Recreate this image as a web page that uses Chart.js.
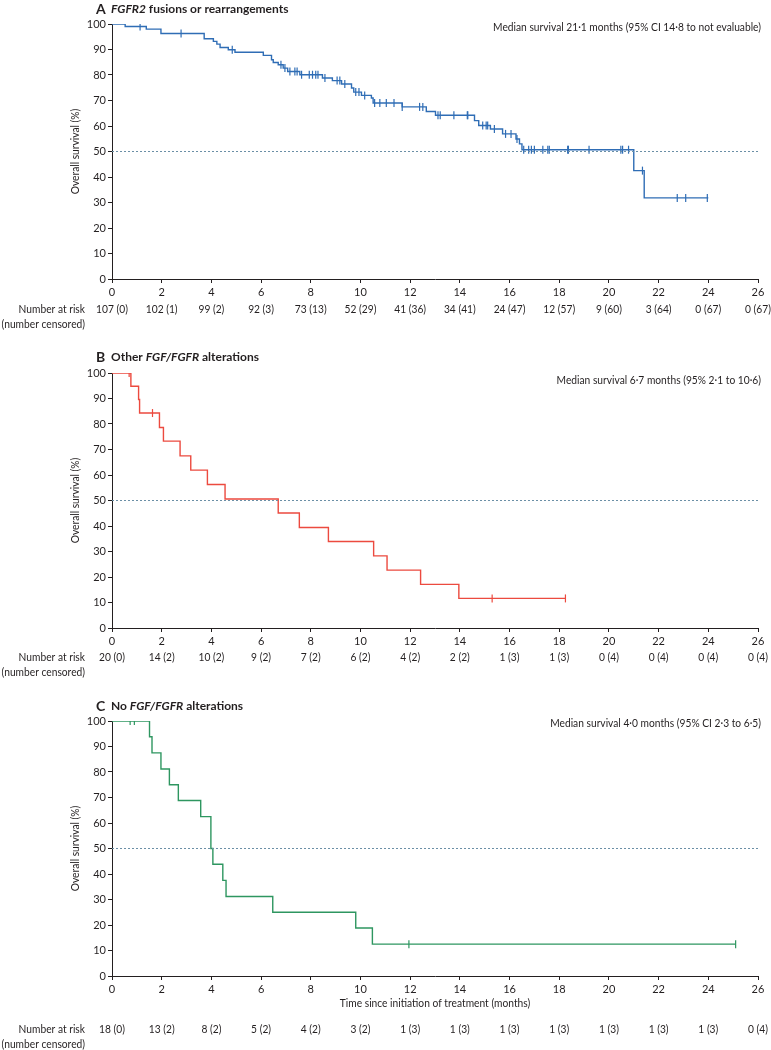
<!DOCTYPE html>
<html>
<head>
<meta charset="utf-8">
<script src="https://cdn.jsdelivr.net/npm/chart.js@4.4.1/dist/chart.umd.min.js"></script>
<style>
  body { margin: 0; background: #fff; width: 771px; height: 1050px; position: relative; overflow: hidden; }
  canvas { position: absolute; left: 0; }
</style>
</head>
<body>
<canvas id="chartA" width="771" height="348" style="top:0"></canvas>
<canvas id="chartB" width="771" height="348" style="top:348px"></canvas>
<canvas id="chartC" width="771" height="353" style="top:697px"></canvas>
<script>
// x axis ticks (months) shared by all panels
const monthTicks = [0, 2, 4, 6, 8, 10, 12, 14, 16, 18, 20, 22, 24, 26];

// A: FGFR2 fusions or rearrangements
const timesA = [0, 0.53, 1.38, 1.97, 3.71, 4.08, 4.22, 4.35, 4.68, 4.95, 6.09, 6.42, 6.49, 6.69, 6.89, 7.07, 7.56, 8.47, 8.87, 9.24, 9.64, 9.73, 10.04, 10.44, 10.51, 11.68, 12.65, 13.02, 14.59, 14.76, 15.23, 15.72, 16.26, 16.40, 16.50, 21.00, 21.42, 24.0];
const survA = [100, 99.0, 98.0, 96.3, 94.2, 93.2, 92.1, 90.8, 89.9, 88.9, 87.7, 86.0, 84.9, 84.0, 82.7, 81.4, 80.1, 78.8, 77.8, 76.5, 74.9, 73.3, 72.0, 71.0, 69.0, 67.5, 65.7, 64.2, 62.1, 60.2, 58.8, 56.9, 54.9, 53.0, 50.7, 42.5, 31.8, 31.8];
const censA = [1.13, 2.78, 4.84, 6.80, 6.96, 7.16, 7.36, 7.45, 7.63, 7.94, 8.07, 8.20, 8.29, 8.57, 9.06, 9.17, 9.37, 9.81, 9.94, 10.17, 10.57, 10.78, 11.04, 11.35, 11.68, 12.38, 12.51, 13.12, 13.21, 13.76, 14.30, 14.32, 14.92, 15.06, 15.12, 15.39, 15.84, 16.06, 16.30, 16.57, 16.77, 16.88, 17.00, 17.34, 17.54, 17.60, 18.34, 18.37, 19.20, 20.48, 20.55, 20.79, 21.35, 22.75, 23.09, 23.96];
const riskA = ['107 (0)', '102 (1)', '99 (2)', '92 (3)', '73 (13)', '52 (29)', '41 (36)', '34 (41)', '24 (47)', '12 (57)', '9 (60)', '3 (64)', '0 (67)', '0 (67)'];

// B: Other FGF/FGFR alterations
const timesB = [0, 0.76, 1.07, 1.11, 1.91, 2.07, 2.74, 3.17, 3.84, 4.55, 6.69, 7.54, 8.71, 10.53, 11.07, 12.42, 13.96, 18.25];
const survB = [100, 94.8, 89.6, 84.3, 78.6, 73.3, 67.5, 61.9, 56.3, 50.6, 45.1, 39.4, 33.9, 28.3, 22.7, 17.1, 11.6, 11.6];
const censB = [0.69, 1.63, 15.3, 18.25];
const riskB = ['20 (0)', '14 (2)', '10 (2)', '9 (2)', '7 (2)', '6 (2)', '4 (2)', '2 (2)', '1 (3)', '1 (3)', '0 (4)', '0 (4)', '0 (4)', '0 (4)'];

// C: No FGF/FGFR alterations
const timesC = [0, 1.51, 1.61, 1.97, 2.31, 2.67, 3.57, 3.98, 4.06, 4.46, 4.59, 6.47, 9.81, 10.48, 25.1];
const survC = [100, 93.8, 87.5, 81.2, 75.0, 68.8, 62.5, 50.0, 43.8, 37.5, 31.2, 25.0, 18.8, 12.5, 12.5];
const censC = [0.73, 0.90, 11.95, 25.1];
const riskC = ['18 (0)', '13 (2)', '8 (2)', '5 (2)', '4 (2)', '3 (2)', '1 (3)', '1 (3)', '1 (3)', '1 (3)', '1 (3)', '1 (3)', '1 (3)', '0 (4)'];

const FONT = 'Lato, "Liberation Sans", sans-serif';
const INK = '#231f20';
const DASH = '#6b8fa6';
const SQUEEZE = 0.93;  // reference type is a bit narrower than Lato

Chart.defaults.font.family = FONT;
Chart.defaults.font.size = 11;
Chart.defaults.color = INK;

function survAt(times, surv, t) {
  let v = surv[0];
  for (let i = 0; i < times.length; i++) {
    if (times[i] <= t) v = surv[i];
  }
  return v;
}

function text(ctx, s, x, y, align, rot) {
  ctx.save();
  ctx.translate(x, y);
  if (rot) ctx.rotate(rot);
  ctx.scale(SQUEEZE, 1);
  ctx.textAlign = align;
  ctx.fillText(s, 0, 0);
  ctx.restore();
}

// titles, median text, y label and number-at-risk rows
const kmText = {
  id: 'kmText',
  afterDraw(chart, args, o) {
    const ctx = chart.ctx;
    const area = chart.chartArea;
    const x = chart.scales.x;
    ctx.save();
    ctx.fillStyle = INK;
    ctx.textBaseline = 'middle';

    // panel title
    ctx.textAlign = 'left';
    ctx.font = 'bold 14px ' + FONT;
    ctx.fillText(o.letter, 96, o.titleY);
    let tx = 111;
    o.title.forEach(p => {
      ctx.font = (p.italic ? 'italic ' : '') + 'bold 12px ' + FONT;
      ctx.fillText(p.t, tx, o.titleY);
      tx += ctx.measureText(p.t).width;
    });

    ctx.font = '11px ' + FONT;
    text(ctx, o.median, 761, o.medianY, 'right');
    text(ctx, 'Overall survival (%)', 75, (area.top + area.bottom) / 2, 'center', -Math.PI / 2);
    if (o.xTitle) {
      text(ctx, o.xTitle, (area.left + area.right) / 2, o.xTitleY, 'center');
    }

    // number at risk
    text(ctx, 'Number at risk', 85, o.riskY, 'right');
    text(ctx, '(number censored)', 85, o.riskY + 15, 'right');
    monthTicks.forEach((m, i) => {
      text(ctx, o.risk[i], x.getPixelForValue(m), o.riskY, 'center');
    });
    ctx.restore();
  }
};

function makeChart(id, p) {
  const curve = p.times.map((t, i) => ({ x: t, y: p.surv[i] }));
  const marks = p.cens.map(t => ({ x: t, y: survAt(p.times, p.surv, t) }));
  const H = document.getElementById(id).height;
  const axisGrid = { drawOnChartArea: false, drawTicks: true, tickLength: 4, color: INK, lineWidth: 1 };
  return new Chart(document.getElementById(id), {
    type: 'line',
    data: {
      datasets: [
        { data: [{ x: 0, y: 50 }, { x: 26, y: 50 }], borderColor: DASH, borderWidth: 1, borderDash: [2, 2], pointRadius: 0 },
        { data: curve, stepped: true, borderColor: p.color, borderWidth: 1.4, pointRadius: 0, fill: false },
        { data: marks, showLine: false, pointStyle: 'line', rotation: 90, pointRadius: 4, borderColor: p.color, borderWidth: 1.2 }
      ]
    },
    options: {
      responsive: false,
      animation: false,
      events: [],
      layout: { padding: { top: p.top, right: 13, left: 0, bottom: 0 } },
      plugins: {
        legend: { display: false },
        tooltip: { enabled: false },
        kmText: p.text
      },
      scales: {
        x: {
          type: 'linear', min: 0, max: 26,
          ticks: { stepSize: 2, padding: 3, color: INK },
          grid: axisGrid,
          border: { color: INK, width: 1 },
          afterFit(s) { s.height = H - p.top - 255; }
        },
        y: {
          min: 0, max: 100,
          ticks: { stepSize: 10, padding: 2, color: INK },
          grid: axisGrid,
          border: { color: INK, width: 1 },
          afterFit(s) { s.width = 112; }
        }
      }
    },
    plugins: [kmText]
  });
}

makeChart('chartA', {
  times: timesA, surv: survA, cens: censA, color: '#2f6db5', top: 24,
  text: {
    letter: 'A', title: [{ t: 'FGFR2', italic: true }, { t: ' fusions or rearrangements' }], titleY: 9,
    median: 'Median survival 21·1 months (95% CI 14·8 to not evaluable)', medianY: 27,
    risk: riskA, riskY: 309
  }
});

makeChart('chartB', {
  times: timesB, surv: survB, cens: censB, color: '#ec4a3f', top: 25,
  text: {
    letter: 'B', title: [{ t: 'Other ' }, { t: 'FGF/FGFR', italic: true }, { t: ' alterations' }], titleY: 9,
    median: 'Median survival 6·7 months (95% 2·1 to 10·6)', medianY: 32,
    risk: riskB, riskY: 309
  }
});

makeChart('chartC', {
  times: timesC, surv: survC, cens: censC, color: '#2e9660', top: 24,
  text: {
    letter: 'C', title: [{ t: 'No ' }, { t: 'FGF/FGFR', italic: true }, { t: ' alterations' }], titleY: 9,
    median: 'Median survival 4·0 months (95% CI 2·3 to 6·5)', medianY: 26,
    xTitle: 'Time since initiation of treatment (months)', xTitleY: 306,
    risk: riskC, riskY: 332
  }
});
</script>
</body>
</html>
